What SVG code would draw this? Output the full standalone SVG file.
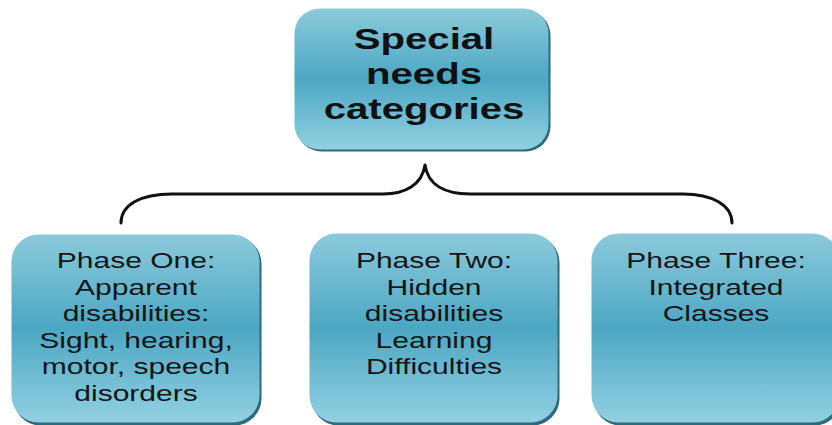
<svg xmlns="http://www.w3.org/2000/svg" width="832" height="425" viewBox="0 0 832 425">
  <defs>
    <linearGradient id="boxFill" x1="0" y1="0" x2="0" y2="1">
      <stop offset="0" stop-color="#8ccadb"/>
      <stop offset="0.5" stop-color="#4ca7c3"/>
      <stop offset="1" stop-color="#92d0e1"/>
    </linearGradient>
    <filter id="soft" x="-5%" y="-5%" width="110%" height="110%">
      <feGaussianBlur stdDeviation="0.6"/>
    </filter>
  </defs>
  <style>
    .shadow { fill: #2f6b7b; filter: url(#soft); }
    .box { fill: url(#boxFill); }
    .head { font-family: "Liberation Sans", Arial, sans-serif; font-weight: bold; font-size: 29.5px; fill: #111; text-anchor: middle; }
    .label { font-family: "Liberation Sans", Arial, sans-serif; font-size: 22.4px; fill: #151515; text-anchor: middle; }
    .brace { fill: none; stroke: #111; stroke-width: 3; stroke-linecap: round; stroke-linejoin: round; }
  </style>
  <rect width="832" height="425" fill="#ffffff"/>

  <!-- root node -->
  <g id="node-categories">
    <rect class="shadow" x="296.5" y="10.5" width="254" height="141" rx="25"/>
    <rect class="box" x="294.5" y="8.5" width="254" height="141" rx="25"/>
    <g transform="translate(424,0) scale(1.36,1)">
      <text class="head" x="0" y="49">Special</text>
      <text class="head" x="0" y="84">needs</text>
      <text class="head" x="0" y="119">categories</text>
    </g>
  </g>

  <!-- connector: curly brace from root to the three phases -->
  <g id="connectors">
    <path class="brace" d="M121,223 C121,205 140,194 172,194 L383,194 C405,194 422,185 425,165 C428,185 445,194 470,194 L683,194 C712,194 732,205 732,223"/>
  </g>

  <!-- phase one -->
  <g id="node-phase-one">
    <rect class="shadow" x="13.5" y="236.5" width="248" height="189" rx="27"/>
    <rect class="box" x="11.5" y="234.5" width="248" height="188" rx="27"/>
    <g transform="translate(136,0) scale(1.34,1)">
      <text class="label" x="0" y="268.5">Phase One:</text>
      <text class="label" x="0" y="295">Apparent</text>
      <text class="label" x="0" y="321.5">disabilities:</text>
      <text class="label" x="0" y="348">Sight, hearing,</text>
      <text class="label" x="0" y="374.5">motor, speech</text>
      <text class="label" x="0" y="401">disorders</text>
    </g>
  </g>

  <!-- phase two -->
  <g id="node-phase-two">
    <rect class="shadow" x="311.5" y="235.5" width="248" height="190" rx="27"/>
    <rect class="box" x="309.5" y="233.5" width="248" height="189" rx="27"/>
    <g transform="translate(434,0) scale(1.34,1)">
      <text class="label" x="0" y="268.5">Phase Two:</text>
      <text class="label" x="0" y="295">Hidden</text>
      <text class="label" x="0" y="321.5">disabilities</text>
      <text class="label" x="0" y="348">Learning</text>
      <text class="label" x="0" y="374.5">Difficulties</text>
    </g>
  </g>

  <!-- phase three -->
  <g id="node-phase-three">
    <rect class="shadow" x="593.5" y="235.5" width="248" height="190" rx="27"/>
    <rect class="box" x="591.5" y="233.5" width="248" height="189" rx="27"/>
    <g transform="translate(716,0) scale(1.34,1)">
      <text class="label" x="0" y="268.5">Phase Three:</text>
      <text class="label" x="0" y="295">Integrated</text>
      <text class="label" x="0" y="321.5">Classes</text>
    </g>
  </g>
</svg>
